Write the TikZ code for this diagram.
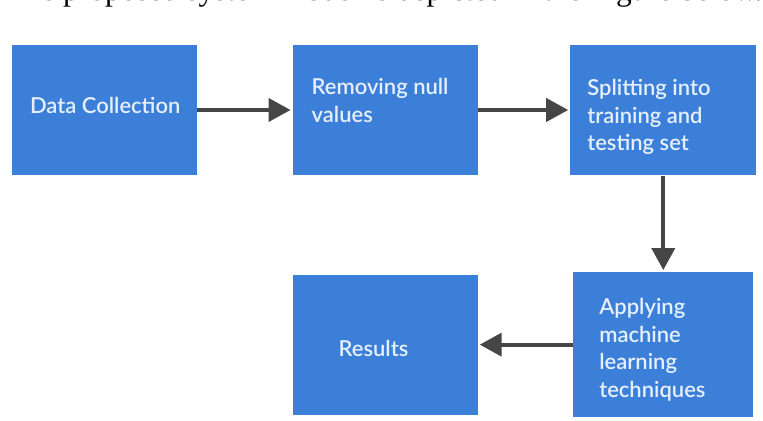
\documentclass[tikz,border=0pt]{standalone}
\usepackage{fontspec}
\setmainfont{Lato}
\IfFontExistsTF{Lato Semibold}
    {\newfontfamily\stagefont{Lato Semibold}}
    {\newfontfamily\stagefont{Lato}[FakeBold=1.2]}
\newfontfamily\paperfont{Liberation Serif}
\usetikzlibrary{arrows.meta}
\usetikzlibrary{positioning}

\definecolor{stageblue}{RGB}{60,127,217}
\definecolor{stageink}{RGB}{230,239,252}
\definecolor{flowgray}{RGB}{70,70,70}

\begin{document}
\begin{tikzpicture}[x=0.02cm,y=-0.02cm,>={Triangle[length=0.44cm,width=0.46cm]},
                    stage/.style={rectangle,fill=stageblue,minimum width=3.7cm,
                    minimum height=2.62cm,inner sep=0pt},
                    stagetext/.style={text=stageink,align=left,inner sep=0pt,
                    font=\stagefont\fontsize{12.5}{15.6}\selectfont}]
    \useasboundingbox (0,0) rectangle (763,421);
    \begin{scope}
        \clip (0,0) rectangle (763,421);
        \node[anchor=base west,inner sep=0pt,text=black,
              font=\paperfont\fontsize{17.9}{20}\selectfont] (caption) at (6,1)
              {The proposed system model is depicted in the Figure below.};
    \end{scope}

    % boxes
    \node[stage] (collect) at (104.5,110) {};
    \node[stage] (clean) [right=1.9cm of collect] {};
    \node[stage,minimum width=3.72cm] (split) [right=1.84cm of clean] {};
    \node[stage,minimum width=3.6cm,minimum height=2.9cm] (apply) [below=1.92cm of split] {};
    \node[stage,minimum height=2.8cm] (results) [left=1.9cm of apply] {};

    % texts
    \node[stagetext,right=0.36cm of collect.west,yshift=0.1cm] (collect-text) {Data Collection};
    \node[stagetext,right=0.38cm of clean.west,yshift=0.19cm] (clean-text) {Removing null\\values};
    \node[stagetext,right=0.34cm of split.west,yshift=-0.14cm] (split-text) {Splitting into\\training and\\testing set};
    \node[stagetext,right=0.52cm of apply.west,yshift=-0.1cm] (apply-text) {Applying\\machine\\learning\\techniques};
    \node[stagetext,right=0.92cm of results.west,yshift=-0.08cm] (results-text) {Results};

    \path[->,shorten >=1pt,every edge/.style={draw=flowgray,line width=0.08cm}]
        (collect) edge (clean)
        (clean) edge (split)
        (split) edge (apply)
        (apply) edge (results);
\end{tikzpicture}
\end{document}
